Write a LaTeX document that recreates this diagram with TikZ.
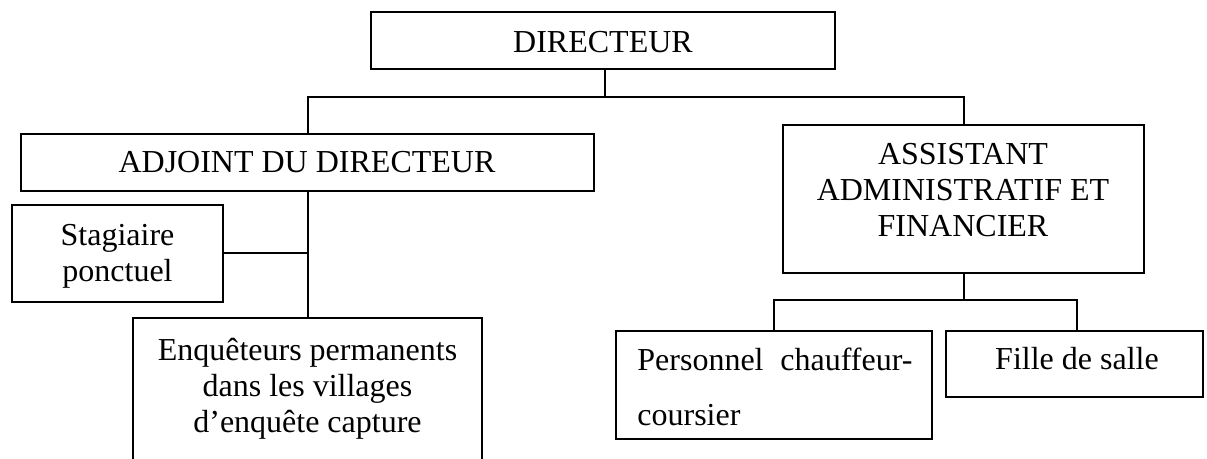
\documentclass[tikz,border=0pt]{standalone}
\usepackage{fontspec}
\setmainfont{Liberation Serif}
\usetikzlibrary{fit}
\begin{document}
\begin{tikzpicture}[x=0.5pt,y=-0.5pt,
  box/.style={draw=black, line width=1pt, inner sep=0pt, outer sep=0pt, rectangle},
  lbl/.style={inner sep=0pt, font=\fontsize{16}{18}\selectfont, align=center},
  link/.style={draw=black, line width=1pt}]
\clip (0,0) rectangle (1207,459);
% boxes
\node[box, fit={(371,12) (835,69)}] (dir) {};
\node[box, fit={(21,134) (594,191)}] (adj) {};
\node[box, fit={(783,125) (1144,273)}] (asst) {};
\node[box, fit={(12,205) (223,302)}] (stag) {};
\node[box, fit={(133,318) (482,490)}] (enq) {};
\node[box, fit={(616,331) (932,439)}] (pers) {};
\node[box, fit={(946,331) (1203,397)}] (fille) {};
% texts
\node[lbl, anchor=base] (tdir) at (603,53) {DIRECTEUR};
\node[lbl, anchor=base] (tadj) at (307,173) {ADJOINT DU DIRECTEUR};
\node[lbl] (tasst) at (963,190.5) {ASSISTANT\\ADMINISTRATIF ET\\FINANCIER};
\node[lbl] (tstag) at (117.5,256) {Stagiaire\\ponctuel};
\node[lbl] (tenq) at (307.5,389) {Enquêteurs permanents\\dans les villages\\d’enquête capture};
\node[lbl, anchor=base] (tfille) at (1077,370) {Fille de salle};
\node[inner sep=0pt, anchor=base west, font=\fontsize{16}{27.5}\selectfont] (tpers) at (637,371)
  {\parbox[t]{137.5pt}{Personnel\hfill chauffeur-\\coursier}};
% connectors
\coordinate (j1) at (605,97);
\coordinate (j2) at (963.5,300);
\draw[link] (dir.south -| j1) -- (j1);
\draw[link] (adj.north) |- (j1) -| (asst.north);
\draw[link] (adj.south) -- (enq.north);
\draw[link] (stag.east) -- (stag.east -| adj.south);
\draw[link] (asst.south) -- (j2);
\draw[link] (pers.north) |- (j2) -| (fille.north -| 1077,0);
\end{tikzpicture}
\end{document}
